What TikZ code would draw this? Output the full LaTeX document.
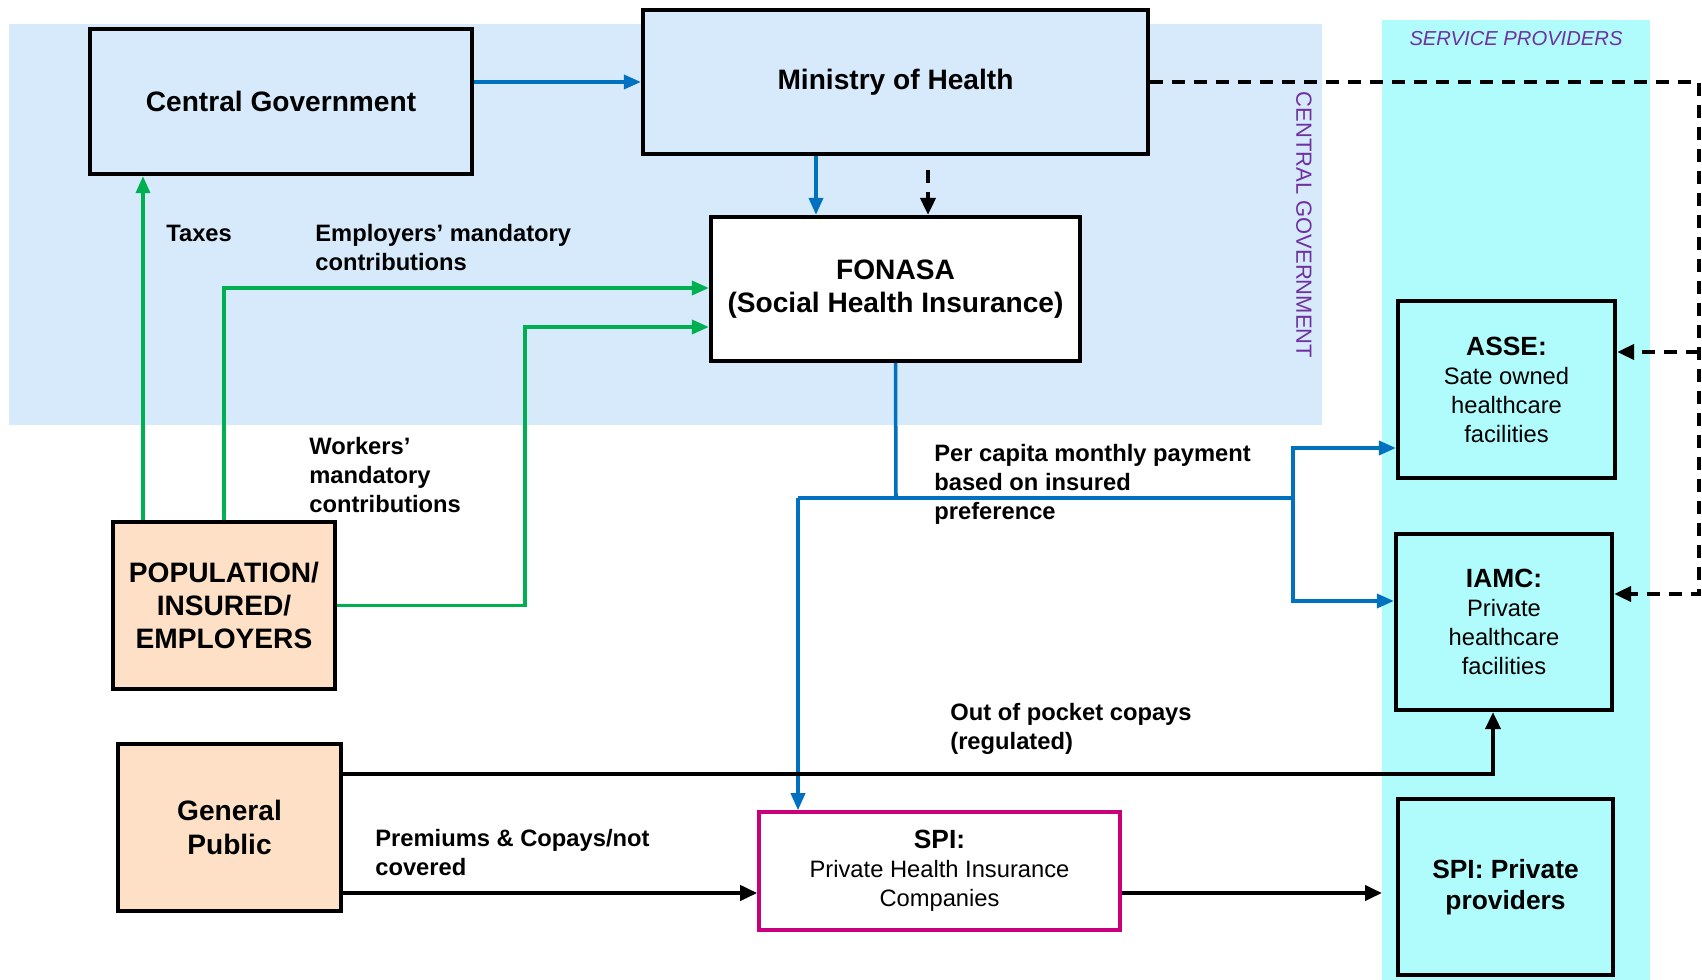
\documentclass[tikz,border=0pt]{standalone}
\usepackage{fontspec}
\setmainfont{Liberation Sans}
\usepackage{xcolor}
\usetikzlibrary{arrows.meta}
\definecolor{govblue}{RGB}{214,234,252}
\definecolor{provcyan}{RGB}{176,252,252}
\definecolor{peach}{RGB}{253,224,198}
\definecolor{flowblue}{RGB}{0,112,192}
\definecolor{flowgreen}{RGB}{0,176,80}
\definecolor{spimagenta}{RGB}{200,0,126}
\definecolor{tagpurple}{RGB}{112,48,160}

\begin{document}
\begin{tikzpicture}[x=0.2mm,y=-0.2mm,
	box/.style={draw,line width=2.4pt,inner sep=0pt,align=center,font=\fontsize{16}{19}\selectfont\bfseries},
	provbox/.style={box,fill=provcyan,font=\fontsize{13.5}{16.5}\selectfont},
	lbl/.style={anchor=west,inner sep=0pt,align=left,font=\fontsize{13.5}{16.5}\selectfont\bfseries},
	bluearrow/.style={flowblue,line width=2pt,-{Triangle[length=3.4mm,width=2.8mm]}},
	greenarrow/.style={flowgreen,line width=2pt,-{Triangle[length=3.4mm,width=2.8mm]}},
	blackarrow/.style={black,line width=2.2pt,-{Triangle[length=3.4mm,width=3mm]}},
	dasharrow/.style={black,line width=2.2pt,dash pattern=on 2.6mm off 1.8mm,-{Triangle[length=3.4mm,width=3mm]}}]
		\useasboundingbox (0,0) rectangle (1702,980);
		\fill[govblue] (9,24) rectangle (1322,425);
		\fill[provcyan] (1382,20) rectangle (1650,980);
		\node[text=tagpurple,font=\fontsize{11.5}{14}\selectfont\itshape] (sptag) at (1516,39) {SERVICE PROVIDERS};
		\node[rotate=-90,text=tagpurple,font=\fontsize{12.5}{15}\selectfont] (cgtag) at (1304,225) {CENTRAL GOVERNMENT};
		
		\node[box,fill=govblue,minimum width=76.4mm,minimum height=29mm] (cg) at (281,101.5) {Central Government};
		\node[box,fill=govblue,minimum width=101mm,minimum height=28.8mm] (moh) at (895.5,82) {Ministry of Health};
		\node[box,fill=white,minimum width=73.8mm,minimum height=28.8mm] (fonasa) at (895.5,289) {FONASA\\(Social Health Insurance)};
		\node[box,fill=peach,minimum width=44.4mm,minimum height=33.4mm] (pop) at (224,605.5) {POPULATION/\\INSURED/\\EMPLOYERS};
		\node[box,fill=peach,minimum width=44.6mm,minimum height=33.4mm] (gp) at (229.5,827.5) {General\\Public};
		\node[box,draw=spimagenta,line width=2pt,fill=white,font=\fontsize{13.5}{16.5}\selectfont,minimum width=72.2mm,minimum height=23.6mm] (spi) at (939.5,871) {{\fontsize{15}{18}\selectfont\bfseries SPI:}\\Private Health Insurance\\Companies};
		\node[provbox,minimum width=43.4mm,minimum height=35.4mm] (asse) at (1506.5,389.5) {{\fontsize{15}{18}\selectfont\bfseries ASSE:}\\Sate owned\\healthcare\\facilities};
		\node[provbox,minimum width=43.2mm,minimum height=35.2mm] (iamc) at (1504,622) {{\fontsize{15}{18}\selectfont\bfseries IAMC:}\\Private\\healthcare\\facilities};
		\node[box,fill=provcyan,font=\fontsize{15}{18}\selectfont\bfseries,minimum width=43mm,minimum height=35.2mm] (spip) at (1505.5,887) {SPI: Private\\providers};
		
		\node[lbl] (taxlbl) at (166,233) {Taxes};
		\node[lbl] (emplbl) at (315,247.5) {Employers’ mandatory\\contributions};
		\node[lbl] (wrklbl) at (309,475.5) {Workers’\\mandatory\\contributions};
		\node[lbl] (paylbl) at (934,484) {Per capita monthly payment\\based on insured\\preference};
		\node[lbl] (ooplbl) at (950,728.5) {Out of pocket copays\\(regulated)};
		\node[lbl] (premlbl) at (375,853) {Premiums \& Copays/not\\covered};
		
		\draw[bluearrow] (moh.west -| cg.east) -- (moh.west);
		\draw[bluearrow] (moh.south -| 816,0) -- (fonasa.north -| 816,0);
		\draw[dasharrow,shorten <=2.8mm] (moh.south -| 928,0) -- (fonasa.north -| 928,0);
		\draw[dasharrow] (moh.east) -- (1699,82) |- (iamc.east |- 0,594);
		\draw[dasharrow] (1699,352) -- (asse.east |- 0,352);
		
		\draw[greenarrow] (pop.north -| 143,0) -- (cg.south -| 143,0);
		\draw[greenarrow] (pop.north) |- (fonasa.west |- 0,288);
		\draw[greenarrow] (pop.east) -| (525,327) -- (fonasa.west |- 0,327);
		
		\coordinate (payjoin) at (896,498);
		\coordinate (payleft) at (798,498);
		\coordinate (payright) at (1293,498);
		\draw[flowblue,line width=2pt] (fonasa.south) -- (payjoin);
		\draw[flowblue,line width=2pt] (payleft) -- (payright);
		\draw[bluearrow] (payleft) -- (payleft |- spi.north);
		\draw[bluearrow] (payright |- 0,601) |- (asse.west |- 0,448);
		\draw[bluearrow] (payright |- 0,448) |- (iamc.west |- 0,601);
		
		\coordinate (provedge) at (1382,893);
		\draw[blackarrow] (gp.east |- 0,774) -| (iamc.south -| 1493,0);
		\draw[blackarrow] (gp.east |- 0,893) -- (spi.west |- 0,893);
		\draw[blackarrow] (spi.east |- 0,893) -- (provedge);
	\end{tikzpicture}
\end{document}
